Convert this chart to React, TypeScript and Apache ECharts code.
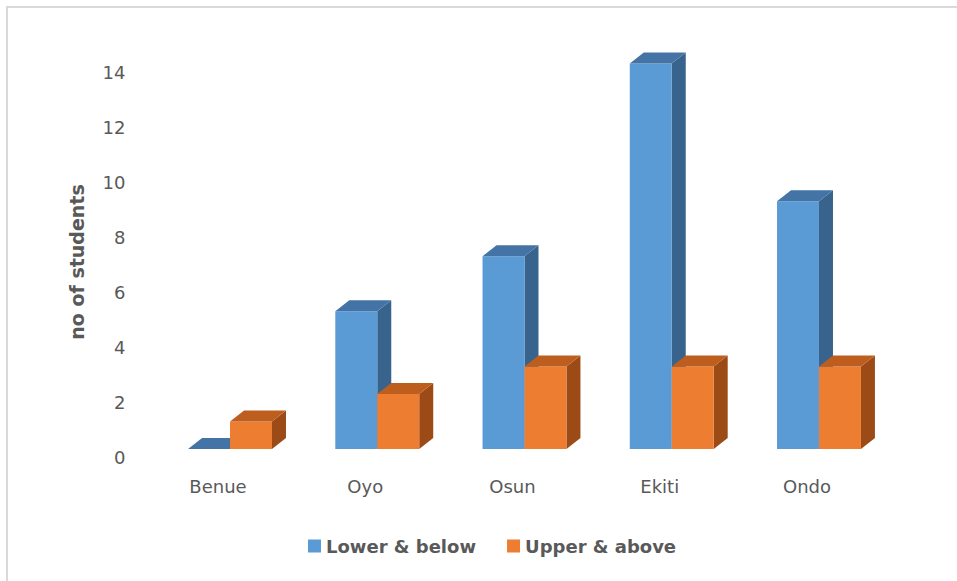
import React, { useEffect, useRef } from "react";
import * as echarts from "echarts";

const categories = ["Benue", "Oyo", "Osun", "Ekiti", "Ondo"];
const lowerAndBelow = [0, 5, 7, 14, 9];
const upperAndAbove = [1, 2, 3, 3, 3];
const seriesNames = ["Lower & below", "Upper & above"];
const yTicks = { min: 0, max: 14, interval: 2 };

// front, top and side face colours for each series
const palette = [
  { front: "#5B9BD5", top: "#4474A6", side: "#37638D" },
  { front: "#ED7D31", top: "#BE5E1E", side: "#9C4B17" },
];

const FONT = "DejaVu Sans";
const TEXT_GREY = "#595959";

function make3DColumn(seriesIndex: number) {
  const colors = palette[seriesIndex];
  return (params: any, api: any) => {
    const cat = api.value(0);
    const val = api.value(1);
    const base = api.coord([cat, 0]);
    const top = api.coord([cat, val]);
    const band = api.size([1, 0])[0];
    const barW = band * 0.285;
    const lift = 8.5; // front face sits slightly above the axis baseline
    const groupShift = 12; // pair of columns is nudged right of the category centre
    const dx = 14;
    const dy = 11;
    const x0 = base[0] + groupShift - barW + seriesIndex * barW;
    const floorY = base[1] - lift;
    const topY = top[1] - lift;
    return {
      type: "group",
      children: [
        {
          type: "polygon",
          shape: {
            points: [
              [x0 + barW, topY],
              [x0 + barW + dx, topY - dy],
              [x0 + barW + dx, floorY - dy],
              [x0 + barW, floorY],
            ],
          },
          style: { fill: colors.side },
        },
        {
          type: "rect",
          shape: { x: x0, y: topY, width: barW, height: floorY - topY },
          style: { fill: colors.front },
        },
        {
          type: "polygon",
          shape: {
            points: [
              [x0, topY],
              [x0 + dx, topY - dy],
              [x0 + barW + dx, topY - dy],
              [x0 + barW, topY],
            ],
          },
          style: { fill: colors.top },
        },
      ],
    };
  };
}

export default function App() {
  const ref = useRef<HTMLDivElement>(null);

  useEffect(() => {
    if (!ref.current) return;
    const chart = echarts.init(ref.current, null, { renderer: "svg" });
    const seriesData = [lowerAndBelow, upperAndAbove];
    chart.setOption({
      animation: false,
      backgroundColor: "#ffffff",
      grid: { left: 144.4, right: 76.4, top: 72, bottom: 123.5 },
      xAxis: {
        type: "category",
        data: categories,
        axisLine: { show: false },
        axisTick: { show: false },
        splitLine: { show: false },
        axisLabel: {
          color: TEXT_GREY,
          fontFamily: FONT,
          fontSize: 18,
          margin: 20,
        },
      },
      yAxis: {
        type: "value",
        min: yTicks.min,
        max: yTicks.max,
        interval: yTicks.interval,
        axisLine: { show: false },
        axisTick: { show: false },
        splitLine: { show: false },
        axisLabel: {
          color: TEXT_GREY,
          fontFamily: FONT,
          fontSize: 18,
          margin: 19,
        },
      },
      legend: {
        left: 303,
        top: 532,
        itemWidth: 13,
        itemHeight: 13,
        itemGap: 31,
        icon: "rect",
        textStyle: {
          color: TEXT_GREY,
          fontFamily: FONT,
          fontSize: 18,
          fontWeight: "bold",
        },
        data: seriesNames,
      },
      graphic: [
        {
          type: "rect",
          shape: { x: 7, y: 7, width: 1200, height: 1200 },
          style: { fill: "none", stroke: "#d9d9d9", lineWidth: 2 },
          silent: true,
        },
        {
          type: "text",
          x: 77,
          y: 262,
          rotation: Math.PI / 2,
          style: {
            text: "no of students",
            fill: TEXT_GREY,
            font: `bold 19px "${FONT}"`,
            align: "center",
            verticalAlign: "middle",
          },
        },
      ],
      series: seriesData.map((values, s) => ({
        name: seriesNames[s],
        type: "custom",
        itemStyle: { color: palette[s].front },
        renderItem: make3DColumn(s),
        data: values.map((v, i) => [i, v]),
        z: 2 + s,
      })),
    });
    return () => chart.dispose();
  }, []);

  return (
    <div
      ref={ref}
      style={{ position: "fixed", left: 0, top: 0, width: 957, height: 581 }}
    />
  );
}
